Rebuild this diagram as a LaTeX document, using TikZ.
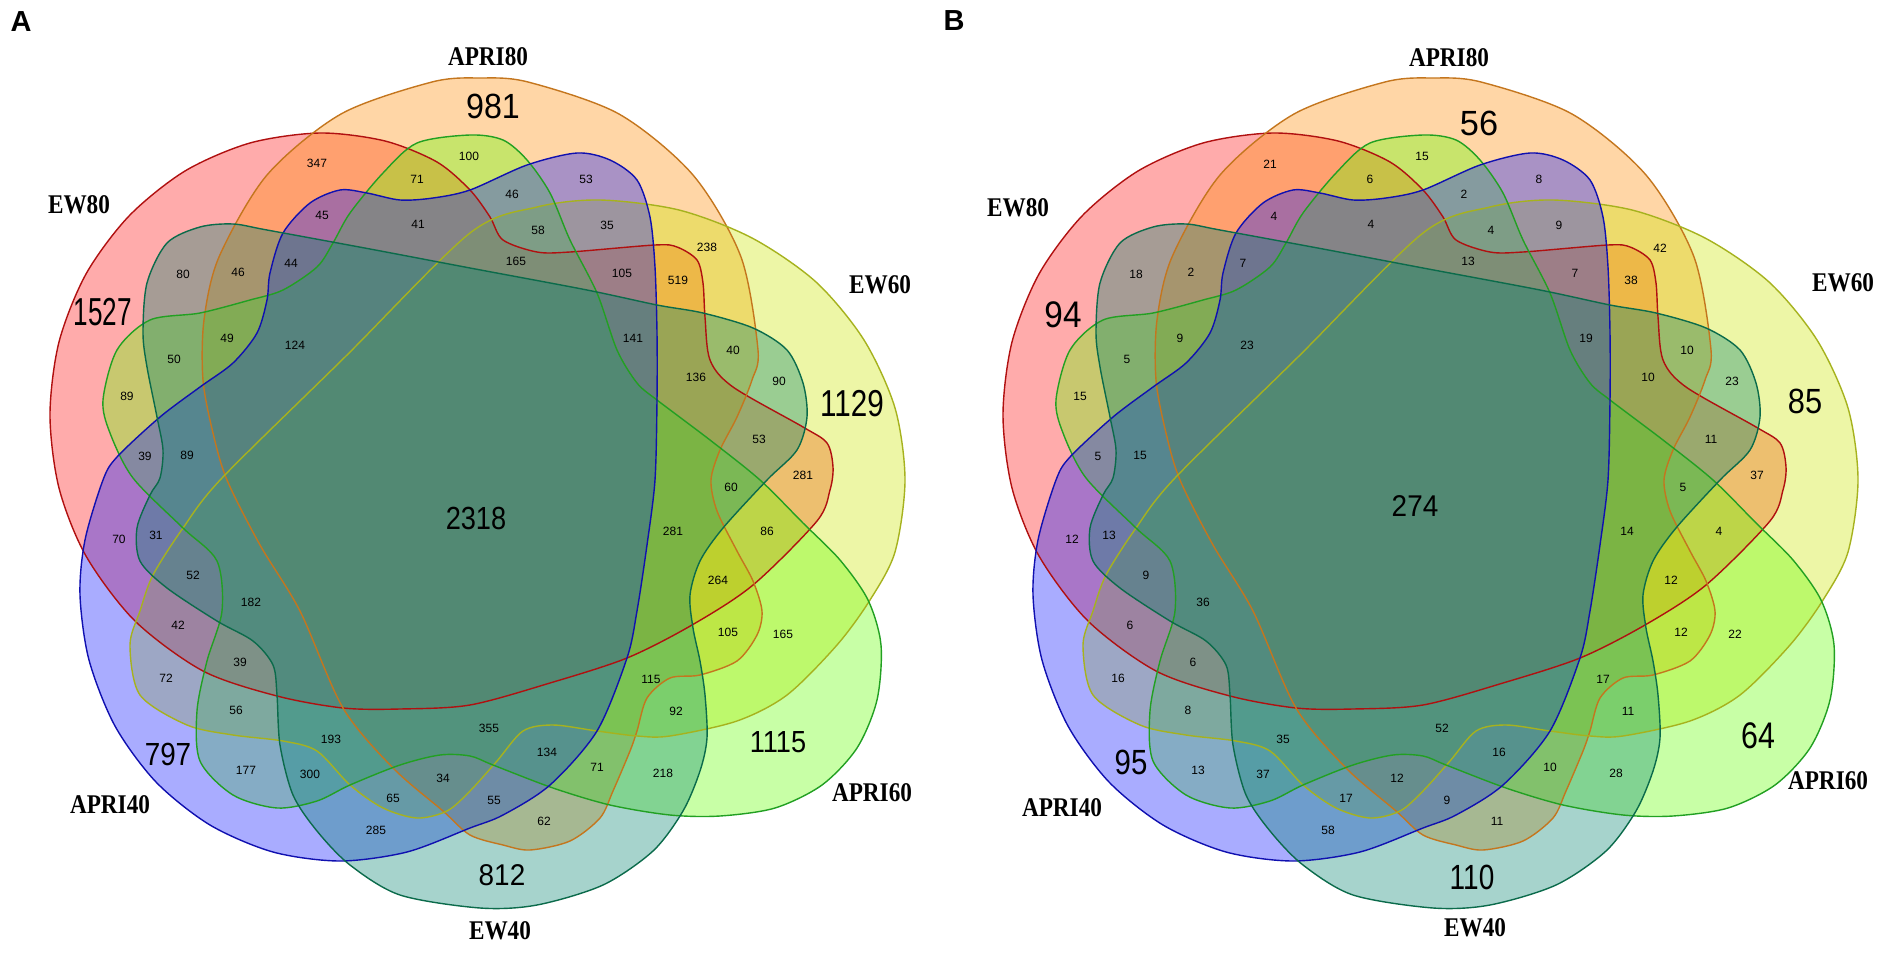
\documentclass[tikz,border=0pt]{standalone}
\usepackage{fontspec}
\usepackage{graphicx}
\setmainfont{Liberation Sans}
\newfontfamily\labfont{Liberation Serif}
\definecolor{cEWa}{RGB}{255,0,0}
\definecolor{bEWa}{RGB}{176,16,16}
\definecolor{cAPa}{RGB}{255,140,0}
\definecolor{bAPa}{RGB}{196,118,30}
\definecolor{cEWb}{RGB}{204,230,0}
\definecolor{bEWb}{RGB}{166,178,30}
\definecolor{cAPb}{RGB}{100,255,0}
\definecolor{bAPb}{RGB}{34,160,34}
\definecolor{cAPc}{RGB}{10,20,255}
\definecolor{bAPc}{RGB}{16,16,176}
\definecolor{cEWc}{RGB}{0,130,110}
\definecolor{bEWc}{RGB}{11,107,75}
\newcommand\bigtxt[3]{\scalebox{#1}[1]{\fontsize{#2}{#2}\selectfont #3}}
\newcommand\labtxt[1]{\scalebox{0.86}[1]{\labfont\bfseries\fontsize{27}{27}\selectfont #1}}
\newcommand\ShEWa[1]{\path[#1] plot[smooth cycle] coordinates {(320,133) (385,141) (437,162) (470,190) (490,217) (503,240) (537,252) (570,252) (655,245) (677,247) (697,260) (703,283) (705,317) (710,360) (733,387) (803,427) (827,443) (833,467) (830,490) (817,521) (753,585) (692,625) (627,658) (550,683) (470,705) (400,709) (343,708) (277,696) (203,671) (135,621) (86,556) (59,488) (50,415) (59,342) (86,274) (129,216) (185,171) (250,143)};}
\newcommand\ShAPa[1]{\path[#1] plot[smooth cycle] coordinates {(480,78) (528,82) (619,114) (693,175) (741,257) (758,350) (752,380) (737,417) (720,450) (711,480) (717,511) (737,551) (753,581) (762,611) (757,635) (737,661) (700,675) (670,678) (647,698) (637,731) (630,751) (613,791) (600,818) (570,841) (530,850) (503,845) (470,835) (443,811) (393,768) (343,708) (300,611) (260,545) (227,480) (213,433) (203,380) (204,320) (219,257) (267,175) (341,114) (432,82)};}
\newcommand\ShEWb[1]{\path[#1] plot[smooth cycle] coordinates {(470,233) (537,207) (600,200) (679,210) (752,238) (816,282) (864,340) (895,408) (905,480) (895,552) (870,600) (837,645) (787,695) (737,721) (670,736) (637,736) (597,731) (553,725) (523,731) (497,761) (470,791) (447,811) (417,818) (383,808) (350,785) (317,751) (283,741) (233,735) (187,725) (140,695) (130,645) (140,611) (153,575) (183,528) (222,478) (346,356)};}
\newcommand\ShAPb[1]{\path[#1] plot[smooth cycle] coordinates {(470,135) (503,140) (527,160) (550,193) (570,240) (597,293) (617,350) (637,383) (657,400) (710,440) (760,480) (803,523) (840,560) (868,600) (881,645) (877,700) (857,748) (822,785) (775,808) (720,816) (670,815) (610,805) (553,788) (493,765) (470,756) (440,755) (400,765) (350,785) (317,801) (277,808) (233,795) (200,761) (197,711) (207,661) (222,611) (217,561) (183,528) (133,478) (110,433) (103,400) (117,350) (150,320) (200,313) (250,300) (283,290) (317,267) (333,243) (350,213) (383,173) (417,143)};}
\newcommand\ShAPc[1]{\path[#1] plot[smooth cycle] coordinates {(470,190) (527,165) (577,153) (610,160) (637,180) (650,217) (655,267) (657,333) (657,400) (655,480) (647,545) (637,611) (627,658) (597,731) (550,785) (503,815) (470,828) (407,852) (340,861) (273,852) (210,825) (156,782) (115,726) (89,660) (80,595) (85,540) (103,480) (117,457) (160,417) (200,387) (233,363) (257,333) (267,300) (270,273) (283,233) (310,203) (340,190) (367,193) (400,200) (433,198)};}
\newcommand\ShEWc[1]{\path[#1] plot[smooth cycle] coordinates {(233,224) (267,230) (370,249) (470,268) (587,290) (657,305) (703,313) (753,328) (787,350) (803,383) (807,417) (797,450) (767,480) (723,528) (700,561) (690,595) (693,628) (700,661) (705,695) (707,738) (700,771) (683,811) (653,851) (603,885) (537,905) (480,908) (400,895) (350,865) (317,831) (293,795) (280,745) (277,695) (273,665) (253,641) (217,621) (167,588) (140,561) (137,528) (150,495) (160,478) (163,450) (157,417) (147,367) (143,333) (147,283) (167,243) (200,227)};}
\newcommand\VennShapes{%
  \ShEWa{fill=cEWa,fill opacity=0.33}
  \ShAPa{fill=cAPa,fill opacity=0.35}
  \ShEWb{fill=cEWb,fill opacity=0.35}
  \ShAPb{fill=cAPb,fill opacity=0.35}
  \ShAPc{fill=cAPc,fill opacity=0.35}
  \ShEWc{fill=cEWc,fill opacity=0.35}
  \ShEWa{draw=bEWa,line width=1.4pt}
  \ShAPa{draw=bAPa,line width=1.4pt}
  \ShEWb{draw=bEWb,line width=1.4pt}
  \ShAPb{draw=bAPb,line width=1.4pt}
  \ShAPc{draw=bAPc,line width=1.4pt}
  \ShEWc{draw=bEWc,line width=1.4pt}}
\begin{document}
\begin{tikzpicture}[x=1pt,y=-1pt,
  sn/.style={inner sep=0pt,font=\fontsize{12}{12}\selectfont},
  bn/.style={inner sep=0pt},
  lb/.style={inner sep=0pt},
  pn/.style={inner sep=0pt,font=\bfseries\fontsize{29}{29}\selectfont}]
\useasboundingbox[fill=white] (0,0) rectangle (1890,958);
\begin{scope}
\VennShapes
\end{scope}
\begin{scope}[shift={(953,0)}]
\VennShapes
\end{scope}
% panel labels
\node[pn] (pA) at (21,22) {A};
\node[pn] (pB) at (954,21) {B};
% set labels A
\node[lb] (lA1) at (79,205) {\labtxt{EW80}};
\node[lb] (lA2) at (488,57) {\labtxt{APRI80}};
\node[lb] (lA3) at (880,285) {\labtxt{EW60}};
\node[lb] (lA4) at (872,793) {\labtxt{APRI60}};
\node[lb] (lA5) at (500,931) {\labtxt{EW40}};
\node[lb] (lA6) at (110,805) {\labtxt{APRI40}};
% set labels B
\node[lb] (lB1) at (1018,208) {\labtxt{EW80}};
\node[lb] (lB2) at (1449,58) {\labtxt{APRI80}};
\node[lb] (lB3) at (1843,283) {\labtxt{EW60}};
\node[lb] (lB4) at (1828,781) {\labtxt{APRI60}};
\node[lb] (lB5) at (1475,928) {\labtxt{EW40}};
\node[lb] (lB6) at (1062,808) {\labtxt{APRI40}};
% big numbers A
\node[bn] (uA1) at (103,312) {\bigtxt{0.67}{39}{1527}};
\node[bn] (uA2) at (493,106) {\bigtxt{0.92}{35}{981}};
\node[bn] (uA3) at (852,404) {\bigtxt{0.79}{37.5}{1129}};
\node[bn] (uA4) at (778,742) {\bigtxt{0.89}{30.5}{1115}};
\node[bn] (uA5) at (502,875) {\bigtxt{0.93}{30}{812}};
\node[bn] (uA6) at (168,754) {\bigtxt{0.87}{32}{797}};
\node[bn] (uA7) at (476,518) {\bigtxt{0.85}{32}{2318}};
% big numbers B
\node[bn] (uB1) at (1063,315) {\bigtxt{0.9}{37}{94}};
\node[bn] (uB2) at (1479,123) {\bigtxt{0.98}{35}{56}};
\node[bn] (uB3) at (1805,401) {\bigtxt{0.88}{35}{85}};
\node[bn] (uB4) at (1131,762) {\bigtxt{0.84}{35}{95}};
\node[bn] (uB5) at (1758,736) {\bigtxt{0.82}{37}{64}};
\node[bn] (uB6) at (1472,877) {\bigtxt{0.8}{35}{110}};
\node[bn] (uB7) at (1415,506) {\bigtxt{0.93}{30}{274}};
% small numbers A
\node[sn] (a1) at (317,163) {347};
\node[sn] (a2) at (417,179) {71};
\node[sn] (a3) at (469,156) {100};
\node[sn] (a4) at (322,215) {45};
\node[sn] (a5) at (418,224) {41};
\node[sn] (a6) at (183,274) {80};
\node[sn] (a7) at (238,272) {46};
\node[sn] (a8) at (291,263) {44};
\node[sn] (a9) at (227,338) {49};
\node[sn] (a10) at (295,345) {124};
\node[sn] (a11) at (174,359) {50};
\node[sn] (a12) at (127,396) {89};
\node[sn] (a13) at (145,456) {39};
\node[sn] (a14) at (187,455) {89};
\node[sn] (a15) at (586,179) {53};
\node[sn] (a16) at (512,194) {46};
\node[sn] (a17) at (538,230) {58};
\node[sn] (a18) at (607,225) {35};
\node[sn] (a19) at (707,247) {238};
\node[sn] (a20) at (516,261) {165};
\node[sn] (a21) at (622,273) {105};
\node[sn] (a22) at (678,280) {519};
\node[sn] (a23) at (633,338) {141};
\node[sn] (a24) at (733,350) {40};
\node[sn] (a25) at (696,377) {136};
\node[sn] (a26) at (779,381) {90};
\node[sn] (a27) at (759,439) {53};
\node[sn] (a28) at (803,475) {281};
\node[sn] (a29) at (119,539) {70};
\node[sn] (a30) at (156,535) {31};
\node[sn] (a31) at (193,575) {52};
\node[sn] (a32) at (251,602) {182};
\node[sn] (a33) at (178,625) {42};
\node[sn] (a34) at (240,662) {39};
\node[sn] (a35) at (166,678) {72};
\node[sn] (a36) at (236,710) {56};
\node[sn] (a37) at (331,739) {193};
\node[sn] (a38) at (246,770) {177};
\node[sn] (a39) at (310,774) {300};
\node[sn] (a40) at (443,778) {34};
\node[sn] (a41) at (393,798) {65};
\node[sn] (a42) at (376,830) {285};
\node[sn] (a43) at (731,487) {60};
\node[sn] (a44) at (673,531) {281};
\node[sn] (a45) at (767,531) {86};
\node[sn] (a46) at (718,580) {264};
\node[sn] (a47) at (728,632) {105};
\node[sn] (a48) at (783,634) {165};
\node[sn] (a49) at (651,679) {115};
\node[sn] (a50) at (676,711) {92};
\node[sn] (a51) at (489,728) {355};
\node[sn] (a52) at (547,752) {134};
\node[sn] (a53) at (597,767) {71};
\node[sn] (a54) at (663,773) {218};
\node[sn] (a55) at (494,800) {55};
\node[sn] (a56) at (544,821) {62};
% small numbers B
\node[sn] (b1) at (1270,164) {21};
\node[sn] (b2) at (1370,179) {6};
\node[sn] (b3) at (1422,156) {15};
\node[sn] (b4) at (1274,216) {4};
\node[sn] (b5) at (1371,224) {4};
\node[sn] (b6) at (1136,274) {18};
\node[sn] (b7) at (1191,272) {2};
\node[sn] (b8) at (1243,263) {7};
\node[sn] (b9) at (1180,338) {9};
\node[sn] (b10) at (1247,345) {23};
\node[sn] (b11) at (1127,359) {5};
\node[sn] (b12) at (1080,396) {15};
\node[sn] (b13) at (1098,456) {5};
\node[sn] (b14) at (1140,455) {15};
\node[sn] (b15) at (1539,179) {8};
\node[sn] (b16) at (1464,194) {2};
\node[sn] (b17) at (1491,230) {4};
\node[sn] (b18) at (1559,225) {9};
\node[sn] (b19) at (1660,248) {42};
\node[sn] (b20) at (1468,261) {13};
\node[sn] (b21) at (1575,273) {7};
\node[sn] (b22) at (1631,280) {38};
\node[sn] (b23) at (1586,338) {19};
\node[sn] (b24) at (1687,350) {10};
\node[sn] (b25) at (1648,377) {10};
\node[sn] (b26) at (1732,381) {23};
\node[sn] (b27) at (1711,439) {11};
\node[sn] (b28) at (1757,475) {37};
\node[sn] (b29) at (1072,539) {12};
\node[sn] (b30) at (1109,535) {13};
\node[sn] (b31) at (1146,575) {9};
\node[sn] (b32) at (1203,602) {36};
\node[sn] (b33) at (1130,625) {6};
\node[sn] (b34) at (1193,662) {6};
\node[sn] (b35) at (1118,678) {16};
\node[sn] (b36) at (1188,710) {8};
\node[sn] (b37) at (1283,739) {35};
\node[sn] (b38) at (1198,770) {13};
\node[sn] (b39) at (1263,774) {37};
\node[sn] (b40) at (1397,778) {12};
\node[sn] (b41) at (1346,798) {17};
\node[sn] (b42) at (1328,830) {58};
\node[sn] (b43) at (1683,487) {5};
\node[sn] (b44) at (1627,531) {14};
\node[sn] (b45) at (1719,531) {4};
\node[sn] (b46) at (1671,580) {12};
\node[sn] (b47) at (1681,632) {12};
\node[sn] (b48) at (1735,634) {22};
\node[sn] (b49) at (1603,679) {17};
\node[sn] (b50) at (1628,711) {11};
\node[sn] (b51) at (1442,728) {52};
\node[sn] (b52) at (1499,752) {16};
\node[sn] (b53) at (1550,767) {10};
\node[sn] (b54) at (1616,773) {28};
\node[sn] (b55) at (1447,800) {9};
\node[sn] (b56) at (1497,821) {11};
\end{tikzpicture}
\end{document}
